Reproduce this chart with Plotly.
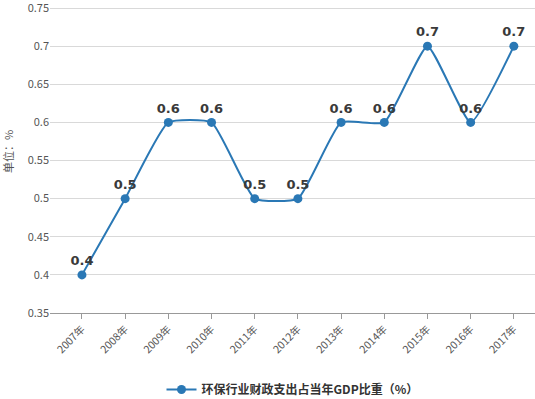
import plotly.graph_objects as go

years = ["2007年", "2008年", "2009年", "2010年", "2011年", "2012年",
         "2013年", "2014年", "2015年", "2016年", "2017年"]
values = [0.4, 0.5, 0.6, 0.6, 0.5, 0.5, 0.6, 0.6, 0.7, 0.6, 0.7]
series_name = "环保行业财政支出占当年GDP比重（%）"
y_title = "单位：%"
y_min, y_max, y_step = 0.35, 0.75, 0.05

fig = go.Figure()
fig.add_trace(go.Scatter(
    x=years, y=values, name="<b>" + series_name + "</b>",
    mode="lines+markers+text",
    line=dict(color="#2a78b5", width=2, shape="spline", smoothing=0.45),
    marker=dict(color="#2a78b5", size=9),
    text=["<b>" + str(v) + "</b>" for v in values],
    textposition="top center",
    textfont=dict(family="DejaVu Sans, Arial", size=13, color="#3a3a3a"),
    cliponaxis=False,
))

fig.add_annotation(
    text=y_title, xref="paper", yref="paper",
    x=-42 / 485, y=(313 - 152) / 310, xanchor="center", yanchor="middle",
    textangle=-90, showarrow=False,
    font=dict(size=11, color="#555555", family="Noto Sans CJK SC"),
)

fig.update_layout(
    width=535, height=399,
    margin=dict(l=50, r=0, t=3, b=86, autoexpand=False),
    plot_bgcolor="white", paper_bgcolor="white",
    font=dict(family="Noto Sans CJK SC, DejaVu Sans", size=11, color="#555555"),
    showlegend=True,
    legend=dict(orientation="h", x=0.5, xanchor="center", y=-0.2, yanchor="top",
                font=dict(size=12, color="#333333", family="Noto Sans CJK SC")),
    xaxis=dict(
        type="category", range=[-0.74, 10.49], automargin=False,
        showgrid=False, showline=True, linecolor="#999999", linewidth=1,
        ticks="outside", ticklen=5, tickcolor="#999999",
        tickangle=-45, tickfont=dict(size=10.5, color="#555555"),
    ),
    yaxis=dict(
        range=[y_min, y_max + 0.0066], tick0=y_min, dtick=y_step, automargin=False,
        tickmode="linear", ticklabeloverflow="allow",
        showgrid=True, gridcolor="#d9d9d9", zeroline=False,
        tickfont=dict(size=11, color="#555555"),
    ),
)

fig.write_html("out.html", config={"displayModeBar": False},
               post_script="document.body.style.margin='0';document.body.style.overflow='hidden';")
